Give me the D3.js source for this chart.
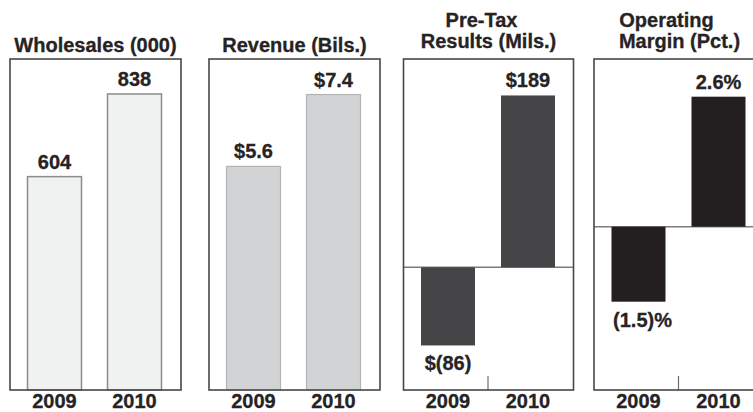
<!DOCTYPE html>
<html>
<head>
<meta charset="utf-8">
<script src="https://cdn.jsdelivr.net/npm/d3@7"></script>
<style>
  html, body { margin: 0; padding: 0; background: #ffffff; }
  svg { display: block; }
  text { font-family: "Liberation Sans", Arial, Helvetica, sans-serif; font-weight: bold; fill: #262324; stroke: #262324; stroke-width: 0.3px; }
</style>
</head>
<body>
<div id="chart"></div>
<script>
// Fiscal years shown in every panel
const years = ["2009", "2010"];

// Panel values
const wholesales = [604, 838];        // thousands of units
const revenue = [5.6, 7.4];           // $ billions
const preTax = [-86, 189];            // $ millions
const opMargin = [-1.5, 2.6];         // percent

// Value labels as printed above / below each bar
const wholesaleLabels = ["604", "838"];
const revenueLabels = ["$5.6", "$7.4"];
const preTaxLabels = ["$(86)", "$189"];
const marginLabels = ["(1.5)%", "2.6%"];

// Panel titles (one entry per line)
const titles = [
  ["Wholesales (000)"],
  ["Revenue (Bils.)"],
  ["Pre-Tax", "Results (Mils.)"],
  ["Operating", "Margin (Pct.)"]
];

const W = 753, H = 412;
const frameTop = 59, frameBottom = 390;

const panels = [
  { left: 10,    width: 171, values: wholesales, labels: wholesaleLabels, title: titles[0],
    domain: [0, 937],        fill: "#f0f1f1", stroke: "#8c8c8c", strokeW: 1.5, zero: false, titleDx: [0] },
  { left: 209,   width: 171, values: revenue,    labels: revenueLabels,   title: titles[1],
    domain: [0, 8.29],       fill: "#d2d3d5", stroke: "#b3b4b6", strokeW: 1.2, zero: false, titleDx: [0] },
  { left: 403.5, width: 170, values: preTax,     labels: preTaxLabels,    title: titles[2],
    domain: [-135, 229.1],   fill: "#454547", stroke: "none",    strokeW: 0,   zero: true,  titleDx: [-7, 0], negDx: 0 },
  { left: 594,   width: 171, values: opMargin,   labels: marginLabels,    title: titles[3],
    domain: [-3.266, 3.354], fill: "#231f20", stroke: "none",    strokeW: 0,   zero: true,  titleDx: [-13, 0], negDx: 4 }
];

const svg = d3.select("#chart").append("svg")
  .attr("width", W)
  .attr("height", H);

panels.forEach(p => {
  const g = svg.append("g").attr("transform", `translate(${p.left},0)`);

  const x = d3.scaleBand()
    .domain(years)
    .range([17.5, 151.5])
    .paddingInner(0.325)
    .paddingOuter(0);

  const y = d3.scaleLinear()
    .domain(p.domain)
    .range([frameBottom, frameTop]);

  const data = years.map((yr, i) => ({ year: yr, value: p.values[i], label: p.labels[i] }));

  // Title lines
  const cx = p.width / 2;
  const titleBase = p.title.length === 1 ? 52 : 27;
  p.title.forEach((line, i) => {
    g.append("text")
      .attr("x", cx + (p.titleDx[i] || 0))
      .attr("y", titleBase + i * 21)
      .attr("text-anchor", "middle")
      .style("font-size", "20px")
      .text(line);
  });

  // Zero baseline for panels with negative values
  if (p.zero) {
    g.append("line")
      .attr("x1", 0).attr("x2", p.width)
      .attr("y1", y(0)).attr("y2", y(0))
      .attr("stroke", "#7d7d7d")
      .attr("stroke-width", 1.5);

    // small divider tick between the two year slots
    const mid = (x(years[0]) + x.bandwidth() + x(years[1])) / 2;
    g.append("line")
      .attr("x1", mid).attr("x2", mid)
      .attr("y1", frameBottom - 14).attr("y2", frameBottom)
      .attr("stroke", "#6d6d6d")
      .attr("stroke-width", 1.2);
  }

  // Bars
  g.selectAll("rect.bar")
    .data(data)
    .join("rect")
    .attr("class", "bar")
    .attr("x", d => x(d.year))
    .attr("width", x.bandwidth())
    .attr("y", d => y(Math.max(0, d.value)))
    .attr("height", d => Math.abs(y(d.value) - y(0)))
    .attr("fill", p.fill)
    .attr("stroke", p.stroke)
    .attr("stroke-width", p.strokeW);

  // Value labels
  g.selectAll("text.val")
    .data(data)
    .join("text")
    .attr("class", "val")
    .attr("x", d => x(d.year) + x.bandwidth() / 2 + (d.value < 0 ? (p.negDx || 0) : 0))
    .attr("y", d => d.value >= 0 ? y(d.value) - 8 : y(d.value) + 25)
    .attr("text-anchor", "middle")
    .style("font-size", "20px")
    .text(d => d.label);

  // Frame
  g.append("rect")
    .attr("x", 0).attr("y", frameTop)
    .attr("width", p.width).attr("height", frameBottom - frameTop)
    .attr("fill", "none")
    .attr("stroke", "#474747")
    .attr("stroke-width", 1.6);

  // Year axis labels
  const xAxis = d3.axisBottom(x).tickSize(0).tickPadding(0);
  const ax = g.append("g")
    .attr("transform", `translate(0,${frameBottom})`)
    .call(xAxis);
  ax.select(".domain").remove();
  ax.selectAll("text")
    .attr("y", 18)
    .attr("dy", null)
    .style("font-size", "20px")
    .style("font-family", "\"Liberation Sans\", Arial, Helvetica, sans-serif")
    .style("font-weight", "bold")
    .attr("fill", "#262324")
    .attr("stroke", "#262324")
    .attr("stroke-width", 0.3);
});
</script>
</body>
</html>
